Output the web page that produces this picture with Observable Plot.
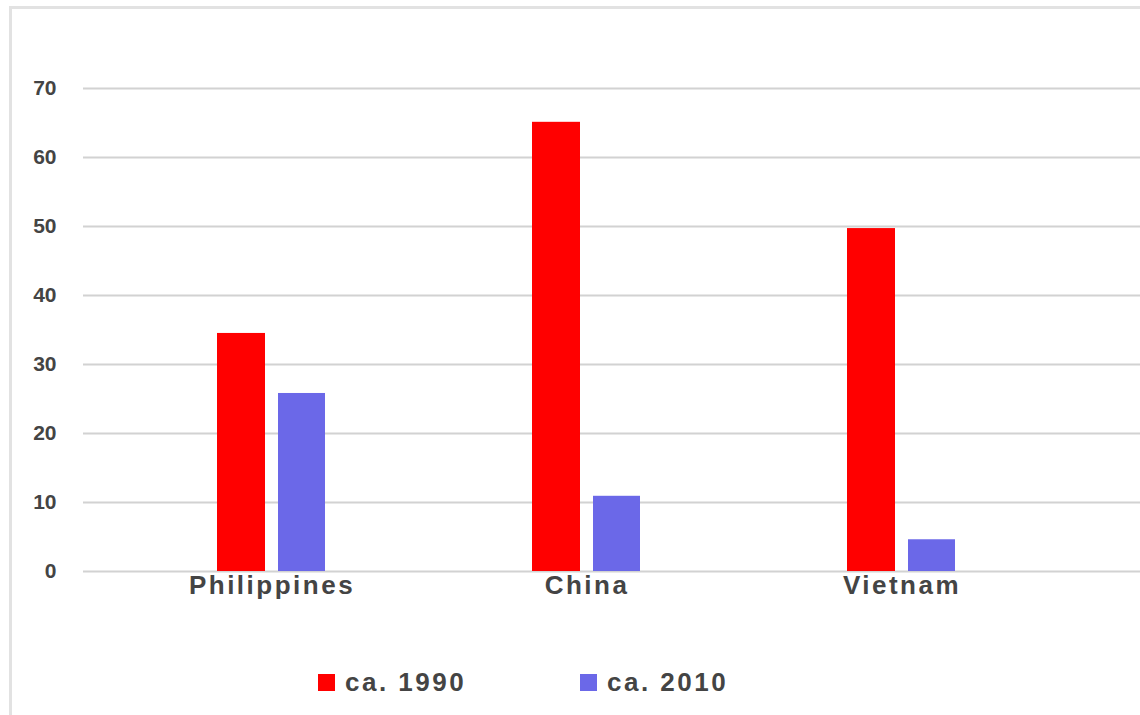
<!DOCTYPE html>
<html>
<head>
<meta charset="utf-8">
<script src="https://cdn.jsdelivr.net/npm/d3@7"></script>
<script src="https://cdn.jsdelivr.net/npm/@observablehq/plot@0.6"></script>
<style>
  html, body { margin: 0; padding: 0; background: #fff; overflow: hidden; }
  body { width: 1140px; height: 715px; position: relative; font-family: "Liberation Sans", Arial, sans-serif; }
  #frame { position: absolute; left: 9px; top: 6px; width: 2000px; height: 2000px; border: 3px solid #e2e2e2; box-sizing: border-box; }
  #chart { position: absolute; left: 0; top: 0; }
  #chart svg { overflow: visible; }
  #chart svg text { fill: #444; font-weight: bold; font-family: "Liberation Sans", Arial, sans-serif; }
  #chart g[aria-label^="y-axis"] text { font-size: 21px; }
  #chart g[aria-label^="x-axis"] text { font-size: 26px; letter-spacing: 2.5px; }
  .legend-item { position: absolute; top: 667px; display: flex; align-items: center; font-size: 26px; font-weight: bold; color: #444; letter-spacing: 2.5px; }
  .legend-item .sw { width: 17px; height: 17px; margin-right: 10px; }
</style>
</head>
<body>
<div id="frame"></div>
<div id="chart"></div>
<div id="legend"></div>
<script>
const countries = ["Philippines", "China", "Vietnam"];
const seriesNames = ["ca. 1990", "ca. 2010"];
const values1990 = [34.5, 65.1, 49.7];
const values2010 = [25.8, 10.9, 4.6];
const yTicks = [0, 10, 20, 30, 40, 50, 60, 70];
const seriesColors = ["#ff0000", "#6b68e8"];

const rows1990 = countries.map((c, i) => ({country: c, series: seriesNames[0], value: values1990[i]}));
const rows2010 = countries.map((c, i) => ({country: c, series: seriesNames[1], value: values2010[i]}));

const chart = Plot.plot({
  width: 1140,
  height: 616,
  marginLeft: 83,
  marginRight: 0,
  marginTop: 88,
  marginBottom: 45,
  style: {background: "transparent", overflow: "visible"},
  x: {domain: countries, paddingInner: 0, paddingOuter: 0.1725, align: 0.275, tickSize: 0, tickPadding: 4, label: null},
  y: {domain: [0, 70], ticks: yTicks, tickSize: 0, tickPadding: 27, label: null},
  color: {domain: seriesNames, range: seriesColors},
  marks: [
    Plot.ruleY(yTicks, {stroke: "#d2d2d2", strokeWidth: 2}),
    Plot.barY(rows1990, {x: "country", y: "value", fill: "series", insetLeft: 103, insetRight: 164}),
    Plot.barY(rows2010, {x: "country", y: "value", fill: "series", insetLeft: 164, insetRight: 104})
  ]
});
document.getElementById("chart").appendChild(chart);

const legend = document.getElementById("legend");
const legendLeft = [318, 580];
seriesNames.forEach((name, i) => {
  const item = document.createElement("div");
  item.className = "legend-item";
  item.style.left = legendLeft[i] + "px";
  const sw = document.createElement("div");
  sw.className = "sw";
  sw.style.background = seriesColors[i];
  const label = document.createElement("span");
  label.textContent = name;
  item.appendChild(sw);
  item.appendChild(label);
  legend.appendChild(item);
});
</script>
</body>
</html>
